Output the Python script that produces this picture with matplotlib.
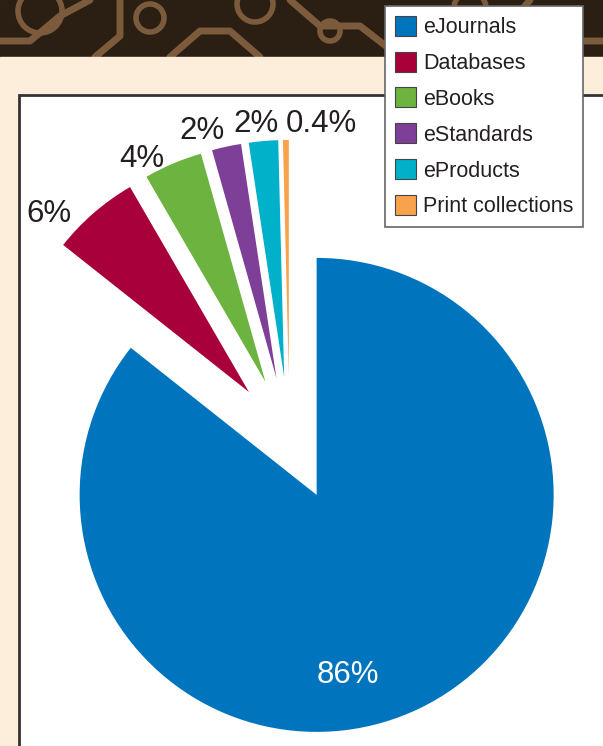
import matplotlib.pyplot as plt
from matplotlib.patches import Rectangle, Circle
import numpy as np

plt.rcParams['font.family'] = ['Liberation Sans', 'DejaVu Sans']

# data
categories = ['eJournals', 'Databases', 'eBooks', 'eStandards', 'eProducts', 'Print collections']
shares = [86, 6, 4, 2, 2, 0.4]
pct_labels = ['86%', '6%', '4%', '2%', '2%', '0.4%']
colours = ['#0075be', '#a8003a', '#6db33f', '#7d3f98', '#00b1c9', '#f9a24c']

# label placement tweaks (degrees from slice bisector, distance in radii from pie centre)
label_shift = [-11.8, 5.6, 4.5, 3.5, 1.0, -6.5]
label_dist = [1.01, 1.40, 1.35, 1.365, 1.35, 1.35]

W, H = 603, 746
fig = plt.figure(figsize=(W / 100, H / 100), dpi=100)
ax = fig.add_axes([0, 0, 1, 1])

# background: circuit strip, cream page, white panel
ax.add_patch(Rectangle((0, H - 57), W, 57, color='#2b1e13', zorder=0))
ring_col = '#7b5b3b'
for cx, cy, rr in [(40, 735, 22), (150, 728, 14), (255, 742, 18), (330, 715, 10),
                   (470, 738, 16), (560, 725, 12)]:
    ax.add_patch(Circle((cx, cy), rr, fill=False, ec=ring_col, lw=4, zorder=0.5))
for xs, ys in [([0, 30, 60, 90], [705, 705, 730, 746]),
               ([95, 120, 120], [689, 710, 746]),
               ([170, 200, 230, 260], [689, 715, 715, 689]),
               ([290, 320, 360, 400], [746, 720, 720, 689]),
               ([420, 440, 500, 530], [689, 710, 710, 746]),
               ([540, 580, 603], [689, 705, 705])]:
    ax.plot(xs, ys, color=ring_col, lw=5, solid_capstyle='round', zorder=0.5)
ax.add_patch(Rectangle((0, 0), W, H - 57, color='#fdeedb', zorder=1))
ax.add_patch(Rectangle((19, -10), 700, H - 95 + 10, fc='white', ec='#333333', lw=2, zorder=1.5))

# pie (explode is in data units here)
R = 237
C = (289.6, H - 439)
wedges, _ = ax.pie(shares, colors=colours, startangle=90, counterclock=False,
                   explode=[0.262 * R] * len(shares), radius=R, center=C,
                   wedgeprops=dict(linewidth=0))
for w in wedges:
    w.set_zorder(3)

for i, w in enumerate(wedges):
    mid = (w.theta1 + w.theta2) / 2 + label_shift[i]
    x = C[0] + label_dist[i] * R * np.cos(np.radians(mid))
    y = C[1] + label_dist[i] * R * np.sin(np.radians(mid))
    ax.text(x, y, pct_labels[i], ha='center', va='center_baseline', fontsize=22.5,
            color='white' if i == 0 else '#231f20', zorder=4)

leg = ax.legend(wedges, categories, loc='upper right', bbox_to_anchor=(583 / W, 1 - 6 / H),
                bbox_transform=fig.transFigure, borderaxespad=0, fontsize=15.5,
                frameon=True, fancybox=False, framealpha=1, edgecolor='#666666',
                handlelength=1.0, handleheight=1.05, handletextpad=0.3,
                labelspacing=0.63, borderpad=0.45)
leg.get_frame().set_linewidth(1.2)
leg.set_zorder(5)
for h in leg.legend_handles:
    h.set_edgecolor('#444444')
    h.set_linewidth(0.8)
for t in leg.get_texts():
    t.set_color('#231f20')

ax.set_xlim(0, W)
ax.set_ylim(0, H)
ax.set_aspect('auto')
ax.axis('off')

fig.savefig('out.png', dpi=100)
